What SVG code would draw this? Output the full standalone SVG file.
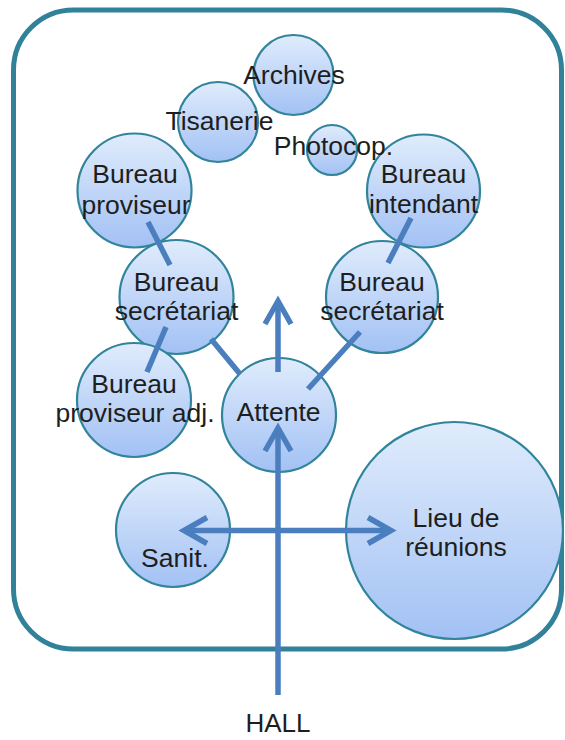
<svg xmlns="http://www.w3.org/2000/svg" width="565" height="740" viewBox="0 0 565 740">
<defs>
<linearGradient id="g" x1="0" y1="0" x2="0" y2="1">
<stop offset="0" stop-color="#E0ECFC"/>
<stop offset="1" stop-color="#A2C1F4"/>
</linearGradient>
</defs>
<style>
.n{fill:url(#g);stroke:#31849B;stroke-width:2.2}
.t{font-family:"Liberation Sans",Arial,sans-serif;font-size:26.5px;fill:#1E1E1E;text-anchor:middle}
.c{stroke:#4A7EBE;stroke-width:5.5;fill:none;stroke-linecap:butt}
.a{stroke:#4A7EBE;stroke-width:5.5;fill:none;stroke-linejoin:miter}
</style>
<rect id="frame" x="13.5" y="10" width="548" height="639" rx="60" ry="60" fill="#FFFFFF" stroke="#31819A" stroke-width="5"/>
<g id="archives"><circle class="n" cx="293.5" cy="75" r="40"/></g>
<g id="tisanerie"><circle class="n" cx="218" cy="122" r="40"/></g>
<g id="photocop"><circle class="n" cx="332" cy="150" r="25"/></g>
<g id="bureau-proviseur"><circle class="n" cx="134.5" cy="190.5" r="57"/></g>
<g id="bureau-intendant"><circle class="n" cx="423.5" cy="191" r="56.5"/></g>
<g id="secretariat-left"><circle class="n" cx="176.5" cy="297" r="57"/></g>
<g id="secretariat-right"><circle class="n" cx="382" cy="297" r="56"/></g>
<g id="proviseur-adj"><circle class="n" cx="134" cy="400" r="57"/></g>
<g id="attente"><circle class="n" cx="279" cy="415" r="57"/></g>
<g id="sanit"><circle class="n" cx="173" cy="530" r="57"/></g>
<g id="lieu-reunions"><circle class="n" cx="454.5" cy="530.5" r="108.5"/></g>
<g id="connectors">
<line class="c" x1="148" y1="222" x2="170" y2="265"/>
<line class="c" x1="411" y1="218" x2="388" y2="263"/>
<line class="c" x1="166" y1="327" x2="147" y2="372"/>
<line class="c" x1="211" y1="339" x2="240" y2="374"/>
<line class="c" x1="360" y1="332" x2="308" y2="389"/>
<line class="c" x1="278" y1="372" x2="278" y2="302"/>
<polyline class="a" points="265,324 278,301 291,324"/>
<line class="c" x1="278" y1="695" x2="278" y2="429"/>
<polyline class="a" points="265,451 278,428 291,451"/>
<line class="c" x1="184" y1="530.5" x2="391" y2="530.5"/>
<polyline class="a" points="207,517.5 184,530.5 207,543.5"/>
<polyline class="a" points="368,517.5 391,530.5 368,543.5"/>
</g>
<g id="labels">
<text class="t" x="294" y="84">Archives</text>
<text class="t" x="219.5" y="130">Tisanerie</text>
<text class="t" x="333.5" y="155">Photocop.</text>
<text class="t" x="135" y="183">Bureau</text>
<text class="t" x="136" y="214">proviseur</text>
<text class="t" x="423.5" y="183">Bureau</text>
<text class="t" x="423.5" y="213">intendant</text>
<text class="t" x="176.5" y="291">Bureau</text>
<text class="t" x="176.5" y="320">secrétariat</text>
<text class="t" x="382" y="291">Bureau</text>
<text class="t" x="382" y="320">secrétariat</text>
<text class="t" x="134" y="393">Bureau</text>
<text class="t" x="135" y="422">proviseur adj.</text>
<text class="t" x="278.5" y="421">Attente</text>
<text class="t" x="175" y="567">Sanit.</text>
<text class="t" x="456" y="527">Lieu de</text>
<text class="t" x="456" y="556">réunions</text>
<text class="t" x="278" y="732" style="font-size:26px">HALL</text>
</g>
</svg>
